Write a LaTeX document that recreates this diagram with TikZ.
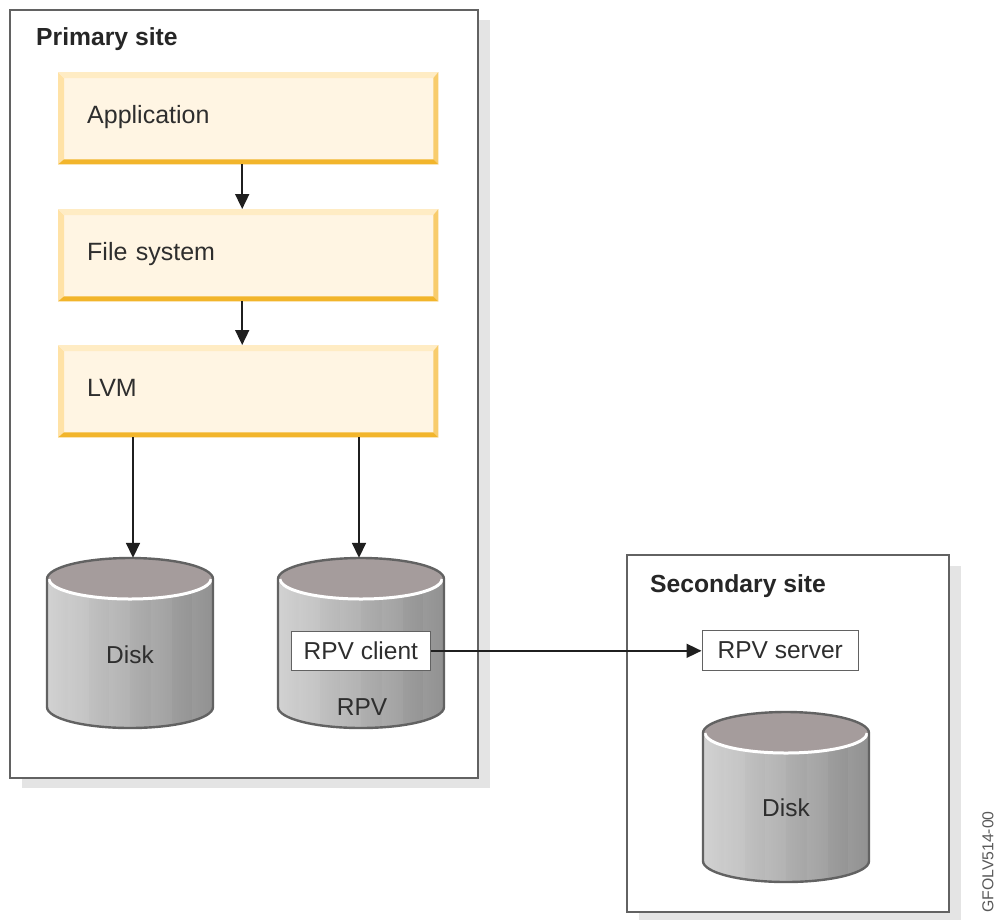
\documentclass[tikz,border=0pt]{standalone}
\usepackage{fontspec}
\setmainfont{Liberation Sans}
\usetikzlibrary{arrows.meta}
\definecolor{ink}{HTML}{2E2E2E}
\definecolor{edgegray}{HTML}{626262}
\definecolor{shadowgray}{HTML}{E4E4E4}
\definecolor{yfill}{HTML}{FFF5E3}
\definecolor{yleft}{HTML}{FFE2A6}
\definecolor{ytop}{HTML}{FFECC4}
\definecolor{yright}{HTML}{F8CC6C}
\definecolor{ydark}{HTML}{F2B52B}
\definecolor{disktop}{HTML}{A59C9C}
\definecolor{diskl}{HTML}{D2D2D2}
\definecolor{diskr}{HTML}{8C8C8C}
\tikzset{
  txt/.style={font=\fontsize{24.5}{29}\selectfont, text=ink, inner sep=0pt},
  title/.style={font=\fontsize{24.7}{29}\selectfont\bfseries, text=black!85, inner sep=0pt, anchor=base west},
  sitebox/.style={draw=edgegray, line width=2pt, fill=white, anchor=north west, inner sep=0pt},
  sitemark/.style={fill=shadowgray, draw=none, anchor=north west, inner sep=0pt},
  layerbox/.style={fill=yfill, anchor=north west, inner sep=0pt, inner xsep=0pt,
     font=\fontsize{25}{29}\selectfont, text=ink, align=left,
     minimum width=380pt, minimum height=92pt, text width=351pt, text height=24pt, text depth=14pt},
  tagbox/.style={txt, draw=edgegray, line width=1.6pt, fill=white, anchor=north west},
  flow/.style={draw=black!88, line width=1.7pt, -{Triangle[width=14pt,length=15pt]}},
  cylhold/.style={draw=none, inner sep=0pt, minimum width=166pt, minimum height=170pt},
}
% name, x of centre, y of top
\newcommand{\cylin}[3]{%
  \pgfmathsetmacro{\cyc}{#3+21}\pgfmathsetmacro{\cyb}{#3+149}%
  \pgfmathsetmacro{\cxa}{#2-83}\pgfmathsetmacro{\cxb}{#2+83}%
  \path[shade, left color=diskl, right color=diskr] (\cxa,\cyc) -- (\cxa,\cyb)
     arc[start angle=180,end angle=0,x radius=83,y radius=21] -- (\cxb,\cyc) -- cycle;
  \begin{scope}
    \clip (\cxa,\cyc) -- (\cxa,\cyb)
     arc[start angle=180,end angle=0,x radius=83,y radius=21] -- (\cxb,\cyc) -- cycle;
    \foreach \k in {1,3,5,7} {\fill[white,opacity=.05] (\cxa+\k*20.75,\cyc) rectangle +(20.75,170);}
  \end{scope}
  \fill[disktop] (#2,\cyc) ellipse[x radius=83,y radius=21];
  \draw[white,line width=3pt] (\cxa+2,\cyc) arc[start angle=180,end angle=0,x radius=81,y radius=20];
  \draw[edgegray,line width=2.4pt] (\cxa,\cyc) arc[start angle=180,end angle=360,x radius=83,y radius=21]
     -- (\cxb,\cyb) arc[start angle=0,end angle=180,x radius=83,y radius=21] -- cycle;
  \node[cylhold] (#1) at (#2,#3+85) {};
}
% name, y top, text
\newcommand{\layer}[3]{%
  \node[layerbox] (#1) at (58,#2) {\hspace*{14.5pt}#3};
  \fill[yleft] (#1.south west) -- (#1.north west)
     -- ([shift={(6,6)}]#1.north west) -- ([shift={(6,-5)}]#1.south west) -- cycle;
  \fill[ytop] (#1.north west) -- (#1.north east)
     -- ([shift={(-5,6)}]#1.north east) -- ([shift={(6,6)}]#1.north west) -- cycle;
  \fill[yright] (#1.south east) -- (#1.north east)
     -- ([shift={(-5,6)}]#1.north east) -- ([shift={(-5,-5)}]#1.south east) -- cycle;
  \fill[ydark] (#1.south west) -- (#1.south east)
     -- ([shift={(-5,-5)}]#1.south east) -- ([shift={(6,-5)}]#1.south west) -- cycle;
}
\begin{document}
\begin{tikzpicture}[x=1pt,y=-1pt]
\useasboundingbox (0,0) rectangle (995,919);
\fill[white] (0,0) rectangle (995,919);
% primary site
\node[sitemark, minimum width=468pt, minimum height=768pt] (pshadow) at (22,20) {};
\node[sitebox, minimum width=468pt, minimum height=768pt] (primary) at (9,9) {};
\node[title] (ptitle) at (36,45) {Primary site};
\layer{app}{72}{Application}
\layer{fs}{209}{File system}
\layer{lvm}{345}{LVM}
\cylin{disk1}{130}{558}
\cylin{disk2}{361}{558}
\node[txt] (disk1t) at (130,655) {Disk};
\node[txt] (disk2t) at (362,707) {RPV};
\node[tagbox, minimum width=139pt, minimum height=39pt] (client) at (290.5,630.5) {RPV client};
% secondary site
\node[sitemark, minimum width=322pt, minimum height=357pt] (sshadow) at (639,566) {};
\node[sitebox, minimum width=322pt, minimum height=357pt] (secondary) at (626,554) {};
\node[title] (stitle) at (650,592) {Secondary site};
\node[tagbox, minimum width=156pt, minimum height=40pt] (server) at (701.5,629.5) {RPV server};
\cylin{disk3}{786}{712}
\node[txt] (disk3t) at (786,808) {Disk};
% connectors
\draw[flow] (app.south) ++(-6,0) coordinate (a1) -- (a1 |- fs.north);
\draw[flow] (fs.south) ++(-6,0) coordinate (a2) -- (a2 |- lvm.north);
\draw[flow] ([xshift=3pt]disk1.north |- lvm.south) -- ([xshift=3pt]disk1.north);
\draw[flow] ([xshift=-2pt]disk2.north |- lvm.south) -- ([xshift=-2pt]disk2.north);
\draw[flow] (client.east) -- (client.east -| server.west);
% figure code
\node[font=\fontsize{15.8}{19}\selectfont, text=black!65, rotate=90, anchor=east, inner sep=0pt] (figcode) at (988,811) {GFOLV514-00};
\end{tikzpicture}
\end{document}
